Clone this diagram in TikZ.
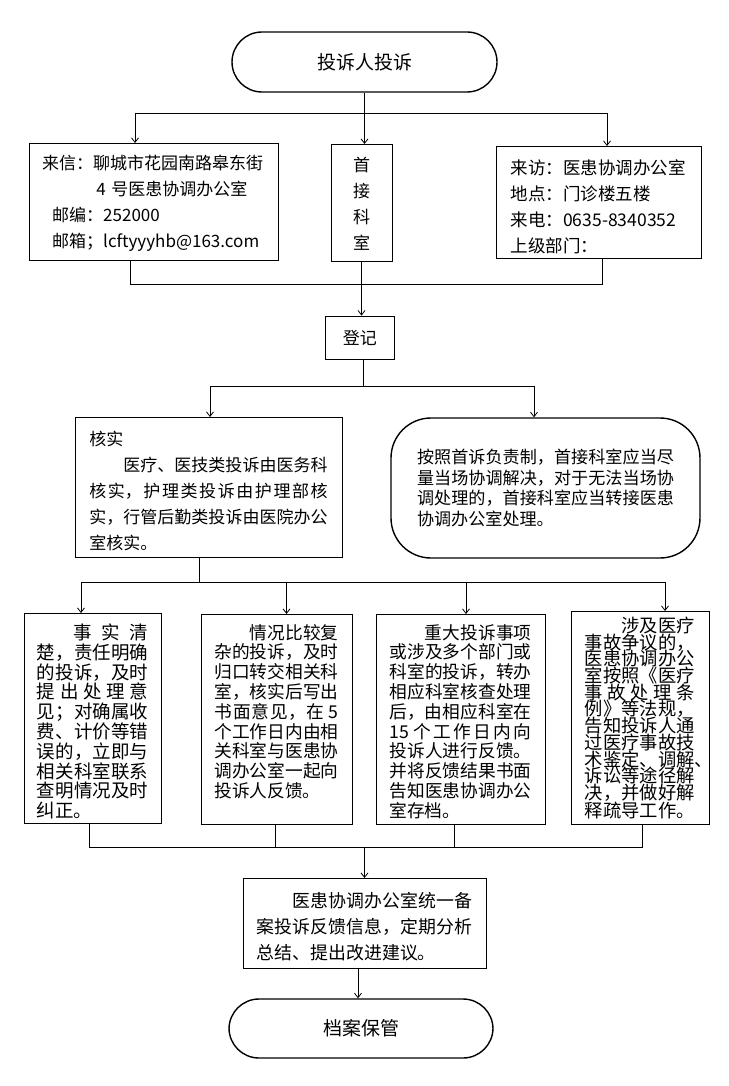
\documentclass[tikz,border=0pt]{standalone}
\usepackage{fontspec}
\setmainfont{Noto Sans CJK SC}
\usetikzlibrary{arrows.meta}
\XeTeXlinebreaklocale "zh"
\XeTeXlinebreakskip=0pt plus 6pt
\tolerance=9999

\begin{document}
\begin{tikzpicture}[x=1pt, y=-1pt,
    box/.style={rectangle, draw, line width=0.8pt, inner sep=0pt, anchor=north},
    term/.style={rectangle, rounded corners=30pt, draw, line width=1.4pt,
                 minimum width=265pt, minimum height=60pt, font=\fontsize{19pt}{22pt}\selectfont},
    lowbox/.style={box, align=justify, text height=24.7pt, text depth=185.3pt,
                   font=\fontsize{17.7pt}{19.8pt}\selectfont},
    conn/.style={line width=0.8pt},
    arr/.style={-{Straight Barb[length=4.5pt,width=7pt]}, line width=0.8pt}]
\fill[white] (0,0) rectangle (728,1086);
\node[term] (top) at (364.5,62) {投诉人投诉};
\node[box, minimum width=249.5pt, text width=223.5pt, text height=26.5pt, text depth=90.5pt,
      align=left, font=\fontsize{17pt}{26pt}\selectfont] (letter) at (153.75,143)
     {来信：聊城市花园南路皋东街\\ \hspace*{3.2em}4 号医患协调办公室\\
      \hspace*{0.6em}邮编：252000\\ \hspace*{0.6em}邮箱；lcftyyyhb@163.com};
\node[box, minimum width=61pt, text width=20pt, text height=27.5pt, text depth=89.5pt,
      align=center, font=\fontsize{17pt}{26pt}\selectfont] (first) at (361.5,144)
     {首\\接\\科\\室};
\node[box, minimum width=204.5pt, text width=176pt, text height=27.7pt, text depth=84.3pt,
      align=left, font=\fontsize{17.5pt}{26pt}\selectfont] (visit) at (598.75,146)
     {来访：医患协调办公室\\地点：门诊楼五楼\\来电：0635-8340352\\上级部门：};
\node[box, anchor=center, minimum width=69.5pt, minimum height=43pt,
      font=\fontsize{17pt}{20pt}\selectfont] (reg) at (359.75,337.5) {登记};
\node[box, minimum width=267pt, text width=238.5pt, text height=28.5pt, text depth=111.5pt,
      align=justify, font=\fontsize{17pt}{26pt}\selectfont] (verify) at (208.5,417)
     {核实\par\hspace*{2em}医疗、医技类投诉由医务科核实，护理类投诉由护理部核实，行管后勤类投诉由医院办公室核实。};
\node[rectangle, draw, line width=1.4pt, rounded corners=40pt, inner sep=0pt,
      minimum width=309pt, minimum height=140pt, text width=257pt, align=justify,
      font=\fontsize{17.1pt}{20.5pt}\selectfont] (direct) at (545.5,488)
     {按照首诉负责制，首接科室应当尽量当场协调解决，对于无法当场协调处理的，首接科室应当转接医患协调办公室处理。};
\node[lowbox, minimum width=136.6pt, text width=111.5pt, text height=26pt, text depth=184pt,
      font=\fontsize{18.5pt}{19.8pt}\selectfont] (b1) at (92.7,613)
     {\hspace*{2em}事实清楚，责任明确的投诉，及时提出处理意见；对确属收费、计价等错误的，立即与相关科室联系查明情况及时纠正。};
\node[lowbox, minimum width=151pt, text width=124.4pt] (b2) at (276.5,614)
     {\hspace*{2em}情况比较复杂的投诉，及时归口转交相关科室，核实后写出书面意见，在 5 个工作日内由相关科室与医患协调办公室一起向投诉人反馈。};
\node[lowbox, minimum width=169pt, text width=142pt] (b3) at (460.5,614)
     {\hspace*{2em}重大投诉事项或涉及多个部门或科室的投诉，转办相应科室核查处理后，由相应科室在 15 个工作日内向投诉人进行反馈。并将反馈结果书面告知医患协调办公室存档。};
\node[box, minimum width=138pt, text width=110.3pt, text height=21pt, text depth=192pt,
      align=left, font=\fontsize{18.3pt}{16.7pt}\selectfont] (b4) at (640,611)
     {\lineskiplimit=-20pt\relax
      \hspace*{2em}涉及医疗\\事故争议的，\\医患协调办公\\室按照《医疗\\事\hfill 故\hfill 处\hfill 理\hfill 条\\
      例》等法规，\\告知投诉人通\\过医疗事故技\\\mbox{术鉴定、调解、}\\诉讼等途径解\\决，并做好解\\释疏导工作。};
\node[box, minimum width=243pt, text width=215.3pt, text height=28.8pt, text depth=61.2pt,
      align=justify, font=\fontsize{17.9pt}{26pt}\selectfont] (summary) at (364.5,878)
     {\hspace*{2em}医患协调办公室统一备案投诉反馈信息，定期分析总结、提出改进建议。};
\node[term, minimum width=264pt, minimum height=59pt] (archive) at (361,1028.5) {档案保管};

\coordinate (s1) at (364.5,113);
\coordinate (s1l) at (135,113);
\coordinate (s1r) at (607,113);
\draw[conn] (top.south) -- (s1);
\draw[conn] (s1l) -- (s1r);
\draw[arr] (s1l) -- (s1l |- letter.north);
\draw[arr] (s1) -- (s1 |- first.north);
\draw[arr] (s1r) -- (s1r |- visit.north);

\coordinate (m1l) at (130.5,284);
\coordinate (m1r) at (602.6,284);
\draw[conn] (letter.south -| m1l) -- (m1l) -- (m1r) -- (visit.south -| m1r);
\draw[arr] (first.south) -- (first.south |- reg.north);

\coordinate (s2) at (363,386);
\coordinate (s2l) at (210,386);
\coordinate (s2r) at (534,386);
\draw[conn] (reg.south -| s2) -- (s2);
\draw[conn] (s2l) -- (s2r);
\draw[arr] (s2l) -- (s2l |- verify.north);
\draw[arr] (s2r) -- (s2r |- direct.north);

\coordinate (s3) at (199.6,582);
\coordinate (a1) at (81,582);
\coordinate (a2) at (286.5,582);
\coordinate (a3) at (466,582);
\coordinate (a4) at (665,582);
\draw[conn] (verify.south -| s3) -- (s3);
\draw[conn] (a1) -- (a4);
\foreach \i in {1,...,4}
  \draw[arr] (a\i) -- (a\i |- b\i.north);

\coordinate (c1) at (89,847);
\coordinate (c2) at (275,847);
\coordinate (c3) at (454,847);
\coordinate (c4) at (642.6,847);
\foreach \i in {1,...,4}
  \draw[conn] (b\i.south -| c\i) -- (c\i);
\draw[conn] (c1) -- (c4);
\coordinate (m2) at (364.5,847);
\draw[arr] (m2) -- (m2 |- summary.north);
\coordinate (d1) at (358,990);
\draw[arr] (summary.south -| d1) -- (archive.north -| d1);
\end{tikzpicture}
\end{document}
